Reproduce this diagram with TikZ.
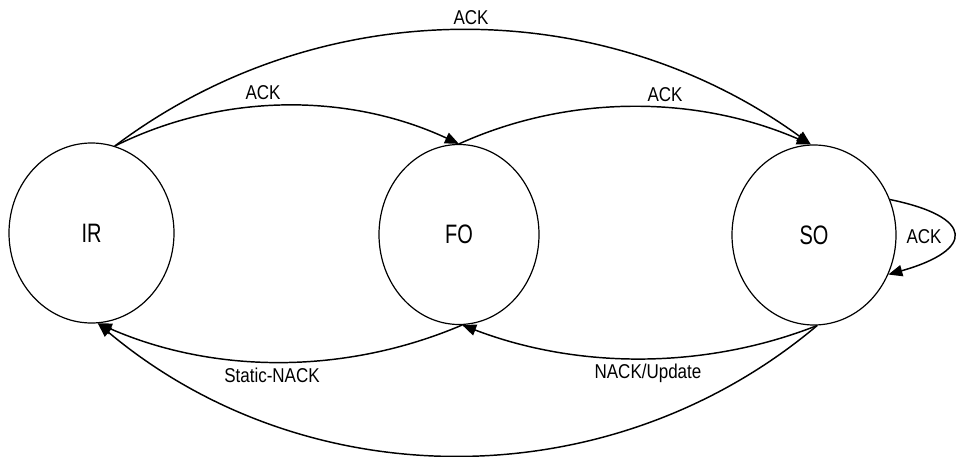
\documentclass[tikz,border=0pt]{standalone}
\usepackage{graphicx}
\usepackage{fontspec}
\setmainfont{Liberation Sans}
\usetikzlibrary{arrows.meta,shapes.geometric}
\newcommand{\edgetxt}[1]{\scalebox{0.85}[1]{#1}}
\newcommand{\statetxt}[1]{\scalebox{0.75}[1]{#1}}
\begin{document}
\begin{tikzpicture}[x=0.75pt,y=-0.75pt,
  state/.style={draw,ellipse,line width=0.9pt,inner sep=0pt,
    minimum width=123.75pt,minimum height=135pt,
    font=\fontsize{20}{24}\selectfont},
  conn/.style={line width=1.1pt,-{Triangle[length=10.5pt,width=8.5pt]}},
  lbl/.style={inner sep=0pt,font=\fontsize{15}{18}\selectfont}]
\useasboundingbox (0,0) rectangle (957,457);
\node[state] (IR) at (91.5,233) {\statetxt{IR}};
\node[state,minimum width=120pt] (FO) at (459,234.5) {\statetxt{FO}};
\node[state,minimum width=123pt] (SO) at (814,235) {\statetxt{SO}};
% top arcs
\draw[conn] (IR.75) .. controls (223.5,92) and (349.5,93) .. (FO.90);
\draw[conn] (FO.90) .. controls (569,94) and (697,95) .. (SO.92);
\draw[conn] (IR.75) .. controls (321,-9) and (602,-7) .. (SO.92);
% self loop
\draw[conn] (SO.25) .. controls (975,217) and (975,250) .. (SO.-28);
% bottom arcs
\draw[conn] (FO.-88) .. controls (345,375) and (214,374) .. (IR.-86);
\draw[conn] (SO.-88) .. controls (704,370) and (577,369) .. (FO.-88);
\draw[conn] (SO.-88) .. controls (610,500) and (306,498) .. (IR.-86);
% labels
\node[lbl] (l1) at (471,18) {\edgetxt{ACK}};
\node[lbl] (l2) at (263,93) {\edgetxt{ACK}};
\node[lbl] (l3) at (665,95) {\edgetxt{ACK}};
\node[lbl] (l4) at (924,237) {\edgetxt{ACK}};
\node[lbl] (l5) at (272,375) {\edgetxt{Static-NACK}};
\node[lbl] (l6) at (648,373) {\edgetxt{NACK/Update}};
\end{tikzpicture}
\end{document}
